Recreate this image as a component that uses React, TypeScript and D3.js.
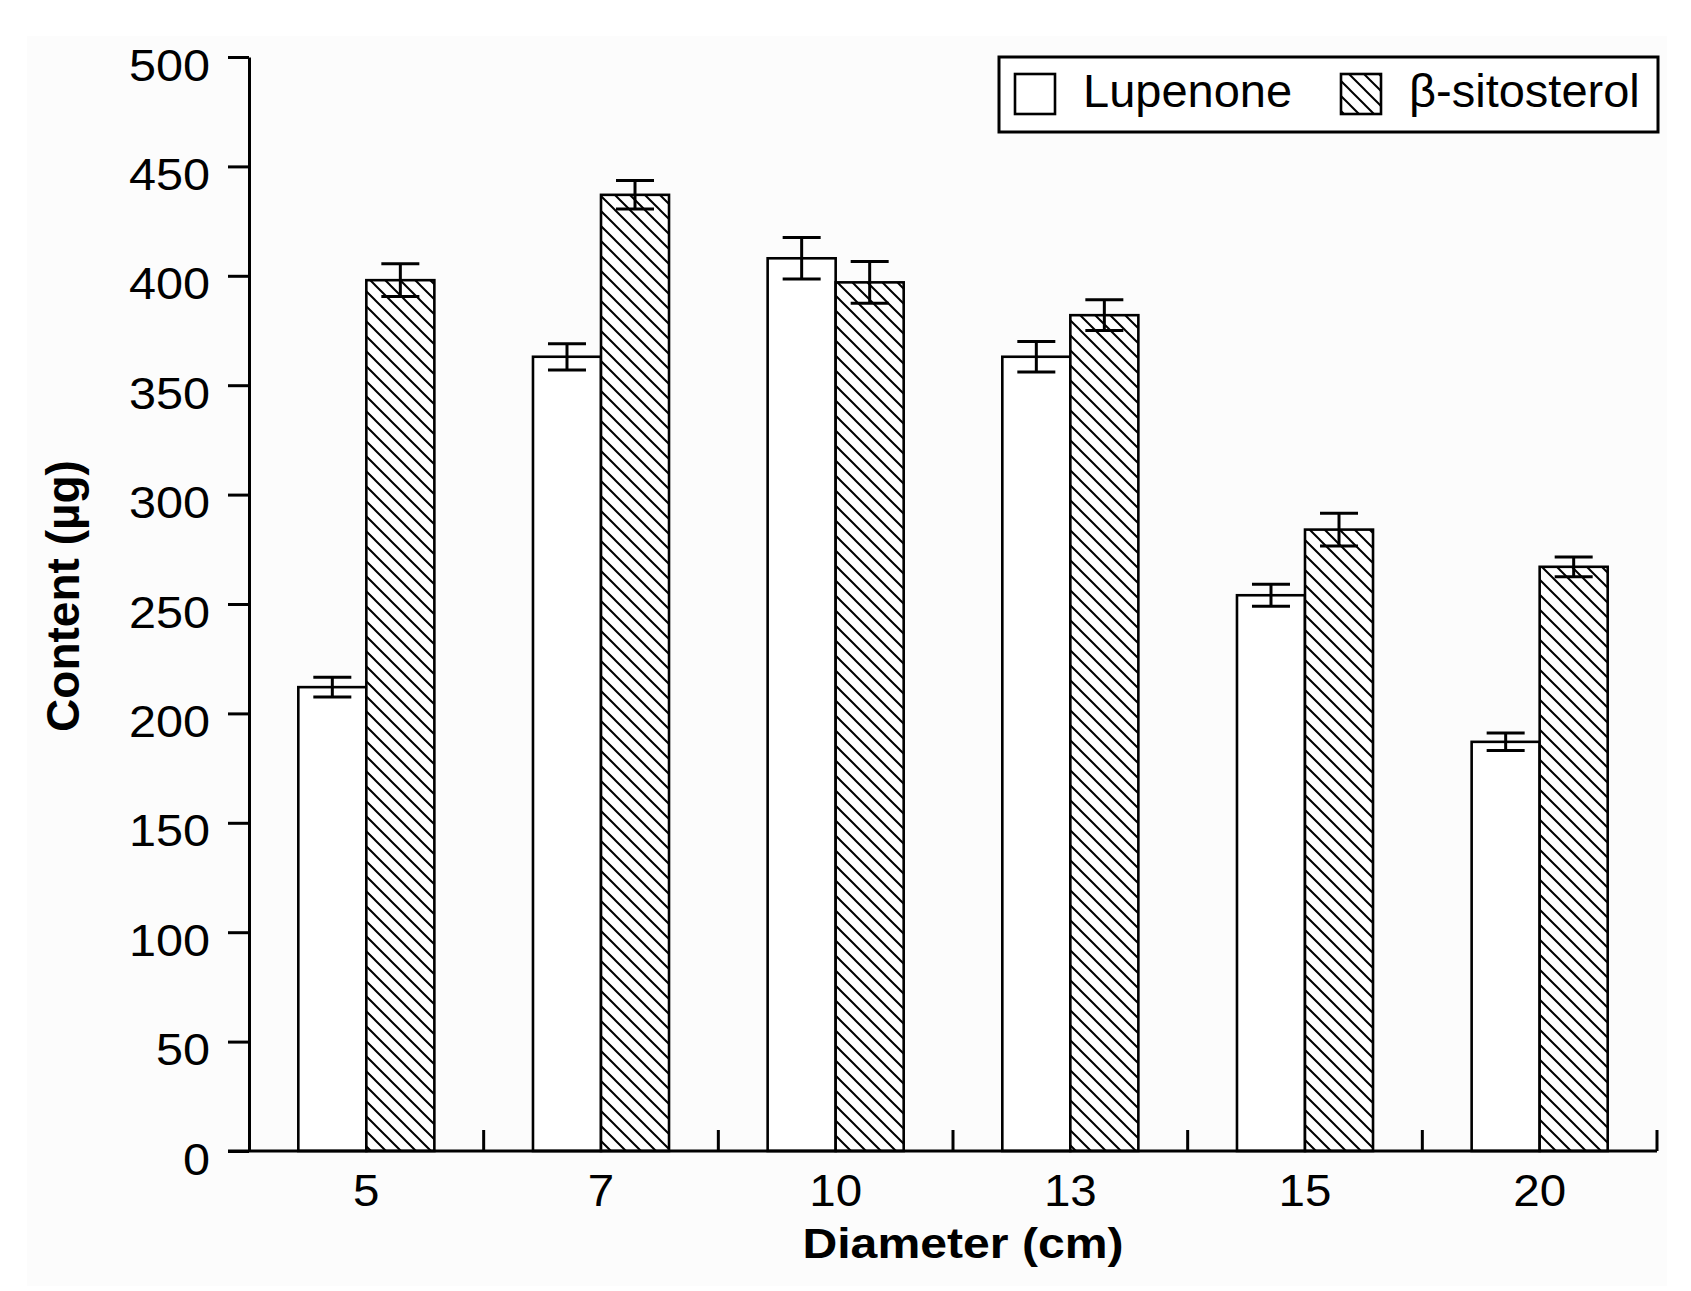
import React, { useEffect, useRef } from 'react'
import * as d3 from 'd3'

const diameters = ['5', '7', '10', '13', '15', '20']
const seriesNames = ['Lupenone', 'β-sitosterol']
const lupenone = [212, 363, 408, 363, 254, 187]
const lupenoneErr = [4.5, 6, 9.5, 7, 5, 4]
const sitosterol = [398, 437, 397, 382, 284, 267]
const sitosterolErr = [7.5, 6.5, 9.5, 7, 7.5, 4.5]
const yTicks = [0, 50, 100, 150, 200, 250, 300, 350, 400, 450, 500]

const FONT = '"Liberation Sans", Arial, Helvetica, sans-serif'

interface BarDatum {
  diameter: string
  series: string
  value: number
  err: number
}

export default function App() {
  const svgRef = useRef<SVGSVGElement>(null)

  useEffect(() => {
    if (!svgRef.current) return
    const svg = d3.select(svgRef.current)
    svg.selectAll('*').remove()

    const width = 1691
    const height = 1291
    const left = 249
    const right = 1657
    const top = 57
    const bottom = 1151
    const sx = 1.08 // the source figure is stretched a little horizontally

    const rows: BarDatum[] = diameters.flatMap((d, i) => [
      { diameter: d, series: seriesNames[0], value: lupenone[i], err: lupenoneErr[i] },
      { diameter: d, series: seriesNames[1], value: sitosterol[i], err: sitosterolErr[i] },
    ])

    const x0 = d3.scaleBand().domain(diameters).range([left, right]).padding(0)
    const x1 = d3
      .scaleBand()
      .domain(seriesNames)
      .range([0, x0.bandwidth()])
      .paddingInner(0)
      .paddingOuter(0.725)
    const y = d3.scaleLinear().domain([0, 500]).range([bottom, top])

    // faint paper tone of the scanned figure
    svg
      .append('rect')
      .attr('x', 27)
      .attr('y', 36)
      .attr('width', 1640)
      .attr('height', 1250)
      .attr('fill', '#fcfcfc')

    const hs = 15
    const defs = svg.append('defs')
    const pat = defs
      .append('pattern')
      .attr('id', 'hatch')
      .attr('patternUnits', 'userSpaceOnUse')
      .attr('width', hs)
      .attr('height', hs)
    pat.append('rect').attr('width', hs).attr('height', hs).attr('fill', '#fff')
    pat
      .append('path')
      .attr('d', `M${-hs / 2},${hs / 2}L${hs / 2},${hs * 1.5}M0,0L${hs},${hs}M${hs / 2},${-hs / 2}L${hs * 1.5},${hs / 2}`)
      .attr('stroke', '#000')
      .attr('stroke-width', 2)

    const fillFor = (s: string) => (s === seriesNames[0] ? '#fff' : 'url(#hatch)')

    // bars
    const g = svg.append('g')
    g.selectAll('rect.bar')
      .data(rows)
      .join('rect')
      .attr('class', 'bar')
      .attr('x', (d) => (x0(d.diameter) || 0) + (x1(d.series) || 0))
      .attr('y', (d) => y(d.value))
      .attr('width', x1.bandwidth())
      .attr('height', (d) => y(0) - y(d.value))
      .attr('fill', (d) => fillFor(d.series))
      .attr('stroke', '#000')
      .attr('stroke-width', 2.6)

    // error bars
    const cap = 19
    const eb = g
      .selectAll('g.err')
      .data(rows)
      .join('g')
      .attr('class', 'err')
      .attr('stroke', '#000')
      .attr('stroke-width', 3)
    const cx = (d: BarDatum) => (x0(d.diameter) || 0) + (x1(d.series) || 0) + x1.bandwidth() / 2
    eb.append('line')
      .attr('x1', cx)
      .attr('x2', cx)
      .attr('y1', (d) => y(d.value + d.err))
      .attr('y2', (d) => y(d.value - d.err))
    eb.append('line')
      .attr('x1', (d) => cx(d) - cap)
      .attr('x2', (d) => cx(d) + cap)
      .attr('y1', (d) => y(d.value + d.err))
      .attr('y2', (d) => y(d.value + d.err))
    eb.append('line')
      .attr('x1', (d) => cx(d) - cap)
      .attr('x2', (d) => cx(d) + cap)
      .attr('y1', (d) => y(d.value - d.err))
      .attr('y2', (d) => y(d.value - d.err))

    // y axis
    const yAxis = svg
      .append('g')
      .attr('transform', `translate(${left},0)`)
      .call(
        d3
          .axisLeft(y)
          .tickValues(yTicks)
          .tickSize(21)
          .tickSizeOuter(0)
          .tickFormat((d) => String(d))
      )
    yAxis.select('.domain').attr('stroke-width', 3).attr('stroke', '#000')
    yAxis.selectAll('.tick line').attr('stroke-width', 3).attr('stroke', '#000')
    yAxis
      .selectAll('.tick text')
      .attr('x', -39 / sx)
      .attr('y', 23)
      .attr('dy', null)
      .attr('transform', `scale(${sx},1)`)
      .style('font-family', FONT)
      .style('font-size', '45px')
      .style('fill', '#000')

    // x axis
    const xa = svg.append('g')
    xa.append('line')
      .attr('x1', 228)
      .attr('x2', right)
      .attr('y1', bottom)
      .attr('y2', bottom)
      .attr('stroke', '#000')
      .attr('stroke-width', 3)
    xa.selectAll('line.tick')
      .data(diameters)
      .join('line')
      .attr('class', 'tick')
      .attr('x1', (d) => (x0(d) || 0) + x0.bandwidth())
      .attr('x2', (d) => (x0(d) || 0) + x0.bandwidth())
      .attr('y1', bottom)
      .attr('y2', bottom - 21)
      .attr('stroke', '#000')
      .attr('stroke-width', 3)
    xa.selectAll('g.lbl')
      .data(diameters)
      .join('g')
      .attr('class', 'lbl')
      .attr('transform', (d) => `translate(${(x0(d) || 0) + x0.bandwidth() / 2},1206) scale(${sx},1)`)
      .append('text')
      .attr('text-anchor', 'middle')
      .style('font-family', FONT)
      .style('font-size', '44px')
      .text((d) => d)

    // axis titles
    svg
      .append('g')
      .attr('transform', `translate(963,1258) scale(1.12,1)`)
      .append('text')
      .attr('text-anchor', 'middle')
      .style('font-family', FONT)
      .style('font-size', '43px')
      .style('font-weight', '700')
      .text('Diameter (cm)')

    svg
      .append('text')
      .attr('transform', 'translate(79,596) rotate(-90)')
      .attr('text-anchor', 'middle')
      .style('font-family', FONT)
      .style('font-size', '46px')
      .style('font-weight', '700')
      .text('Content (µg)')

    // legend
    const lg = svg.append('g')
    lg.append('rect')
      .attr('x', 999)
      .attr('y', 57)
      .attr('width', 659)
      .attr('height', 75)
      .attr('fill', '#fff')
      .attr('stroke', '#000')
      .attr('stroke-width', 3)
    const legendX = [1015, 1341]
    seriesNames.forEach((s, i) => {
      lg.append('rect')
        .attr('x', legendX[i])
        .attr('y', 74)
        .attr('width', 40)
        .attr('height', 40)
        .attr('fill', fillFor(s))
        .attr('stroke', '#000')
        .attr('stroke-width', 2.6)
      lg.append('text')
        .attr('x', legendX[i] + 68)
        .attr('y', 107)
        .style('font-family', FONT)
        .style('font-size', '47px')
        .text(s)
    })

    svg.attr('width', width).attr('height', height)
  }, [])

  return (
    <div style={{ position: 'absolute', left: 0, top: 0, background: '#fff' }}>
      <svg ref={svgRef} width={1691} height={1291} style={{ display: 'block' }} />
    </div>
  )
}
